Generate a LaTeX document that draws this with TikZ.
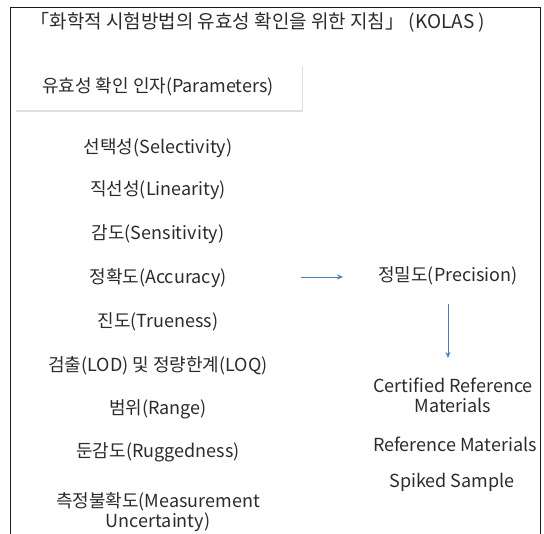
\documentclass[tikz,border=0pt]{standalone}
\usepackage{fontspec}
\setmainfont{Noto Sans CJK KR}
\usepackage{xcolor}
\usetikzlibrary{arrows.meta,shadows}
\definecolor{textgray}{HTML}{2B2B2B}
\definecolor{framegray}{HTML}{1A1A1A}
\definecolor{arrowblue}{HTML}{4A7EBB}
\tikzset{every node/.append style={font=\fontsize{18}{20}\selectfont,text=textgray}}
\begin{document}
\begin{tikzpicture}[x=1pt,y=-1pt,>={Stealth[length=6pt,width=5pt]},
  item/.style={align=center,inner sep=1pt}]
\useasboundingbox (0,0) rectangle (544,534);
\draw[framegray,line width=1pt] (10,534)--(10,8)--(540,8)--(540,534);
\node[anchor=west,font=\fontsize{19}{21}\selectfont] (title) at (27,22) {「화학적 시험방법의 유효성 확인을 위한 지침」 (KOLAS )};
\node[fill=white,minimum width=287pt,minimum height=46pt,
  drop shadow={opacity=.25,shadow xshift=1pt,shadow yshift=-2pt}] (param) at (158,87) {유효성 확인 인자(Parameters)};
\node[item] (sel) at (158,148) {선택성(Selectivity)};
\node[item] (lin) at (158,190) {직선성(Linearity)};
\node[item] (sen) at (158,234) {감도(Sensitivity)};
\node[item] (acc) at (158,278) {정확도(Accuracy)};
\node[item] (tru) at (158,322) {진도(Trueness)};
\node[item] (lod) at (158,366) {검출(LOD) 및 정량한계(LOQ)};
\node[item] (ran) at (158,409) {범위(Range)};
\node[item] (rug) at (158,452) {둔감도(Ruggedness)};
\node[item] (unc) at (158,512) {측정불확도(Measurement\\Uncertainty)};
\node[item] (pre) at (448,276) {정밀도(Precision)};
\node[item] (crm) at (453,395) {Certified Reference\\Materials};
\node[item] (rm) at (455,444) {Reference Materials};
\node[item] (spk) at (452,482) {Spiked Sample};
\coordinate (a1) at (301,277); \coordinate (a2) at (343,277);
\coordinate (b1) at (448,304); \coordinate (b2) at (448,358);
\draw[->,arrowblue,line width=.8pt] (a1)--(a2);
\draw[->,arrowblue,line width=.8pt] (b1)--(b2);
\end{tikzpicture}
\end{document}
